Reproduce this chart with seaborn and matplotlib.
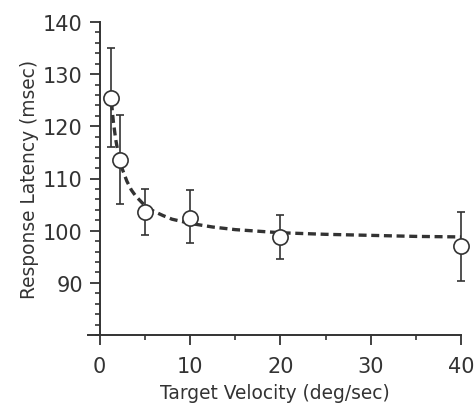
import numpy as np
import pandas as pd
import matplotlib
matplotlib.use("Agg")
import matplotlib.pyplot as plt
import seaborn as sns
from matplotlib.ticker import MultipleLocator

# data
velocity = [1.3, 2.2, 5, 10, 20, 40]
latency = [125.5, 113.6, 103.6, 102.5, 98.8, 97.1]
err_low = [9.5, 8.5, 4.4, 4.9, 4.3, 6.7]
err_high = [9.5, 8.5, 4.3, 5.2, 4.2, 6.4]

fit_x = [1.3, 1.5, 1.75, 2.0, 2.5, 3.0, 3.5, 4.0, 5.0, 6.0, 7.0, 8.0, 10.0,
         12.5, 15.0, 20.0, 25.0, 30.0, 35.0, 40.0]
fit_y = [124.6, 121.0, 117.7, 115.2, 111.8, 109.5, 107.8, 106.6, 104.8, 103.7,
         102.9, 102.2, 101.4, 100.7, 100.2, 99.6, 99.3, 99.1, 98.9, 98.8]

x_ticks = [0, 10, 20, 30, 40]
y_ticks = [90, 100, 110, 120, 130, 140]

sns.set_theme(style="ticks")
plt.rcParams['font.family'] = ['DejaVu Sans']

ink = "#333333"
fig = plt.figure(figsize=(4.74, 4.10), dpi=100)
ax = fig.add_axes([88/474, 1-336/410, (461-88)/474, (336-23)/410])

df = pd.DataFrame({"x": velocity, "y": latency})
fit = pd.DataFrame({"x": fit_x, "y": fit_y})

sns.lineplot(data=fit, x="x", y="y", ax=ax, color=ink, lw=2.4,
             linestyle=(0, (2.4, 1.4)), zorder=2, clip_on=False)
ax.errorbar(velocity, latency, yerr=[err_low, err_high], fmt="none",
            ecolor=ink, elinewidth=1.2, capsize=2.7, capthick=1.2, zorder=3,
            clip_on=False)
sns.scatterplot(data=df, x="x", y="y", ax=ax, s=120, marker="o",
                facecolor="white", edgecolor=ink, linewidth=1.2, zorder=4,
                clip_on=False)

ax.set_xlim(-1.3, 40)
ax.set_ylim(80, 140)
ax.set_xticks(x_ticks)
ax.set_yticks(y_ticks)
ax.xaxis.set_minor_locator(MultipleLocator(5))
ax.yaxis.set_minor_locator(MultipleLocator(2))

ax.spines['left'].set_position(('data', 0))
for s in ['top', 'right']:
    ax.spines[s].set_visible(False)
for s in ['left', 'bottom']:
    ax.spines[s].set_color(ink)
    ax.spines[s].set_linewidth(1.4)

ax.tick_params(which='major', length=7.2, width=1.3, color=ink,
               labelsize=15, labelcolor=ink, direction='out')
ax.tick_params(which='minor', length=3.6, width=1.2, color=ink, direction='out')
ax.tick_params(axis='x', pad=8)
ax.tick_params(axis='y', pad=5)

ax.set_xlabel("Target Velocity (deg/sec)", fontsize=13.4, color=ink, labelpad=5)
ax.set_ylabel("Response Latency (msec)", fontsize=13.4, color=ink, labelpad=3)

fig.savefig("out.png", dpi=100, facecolor="white")
